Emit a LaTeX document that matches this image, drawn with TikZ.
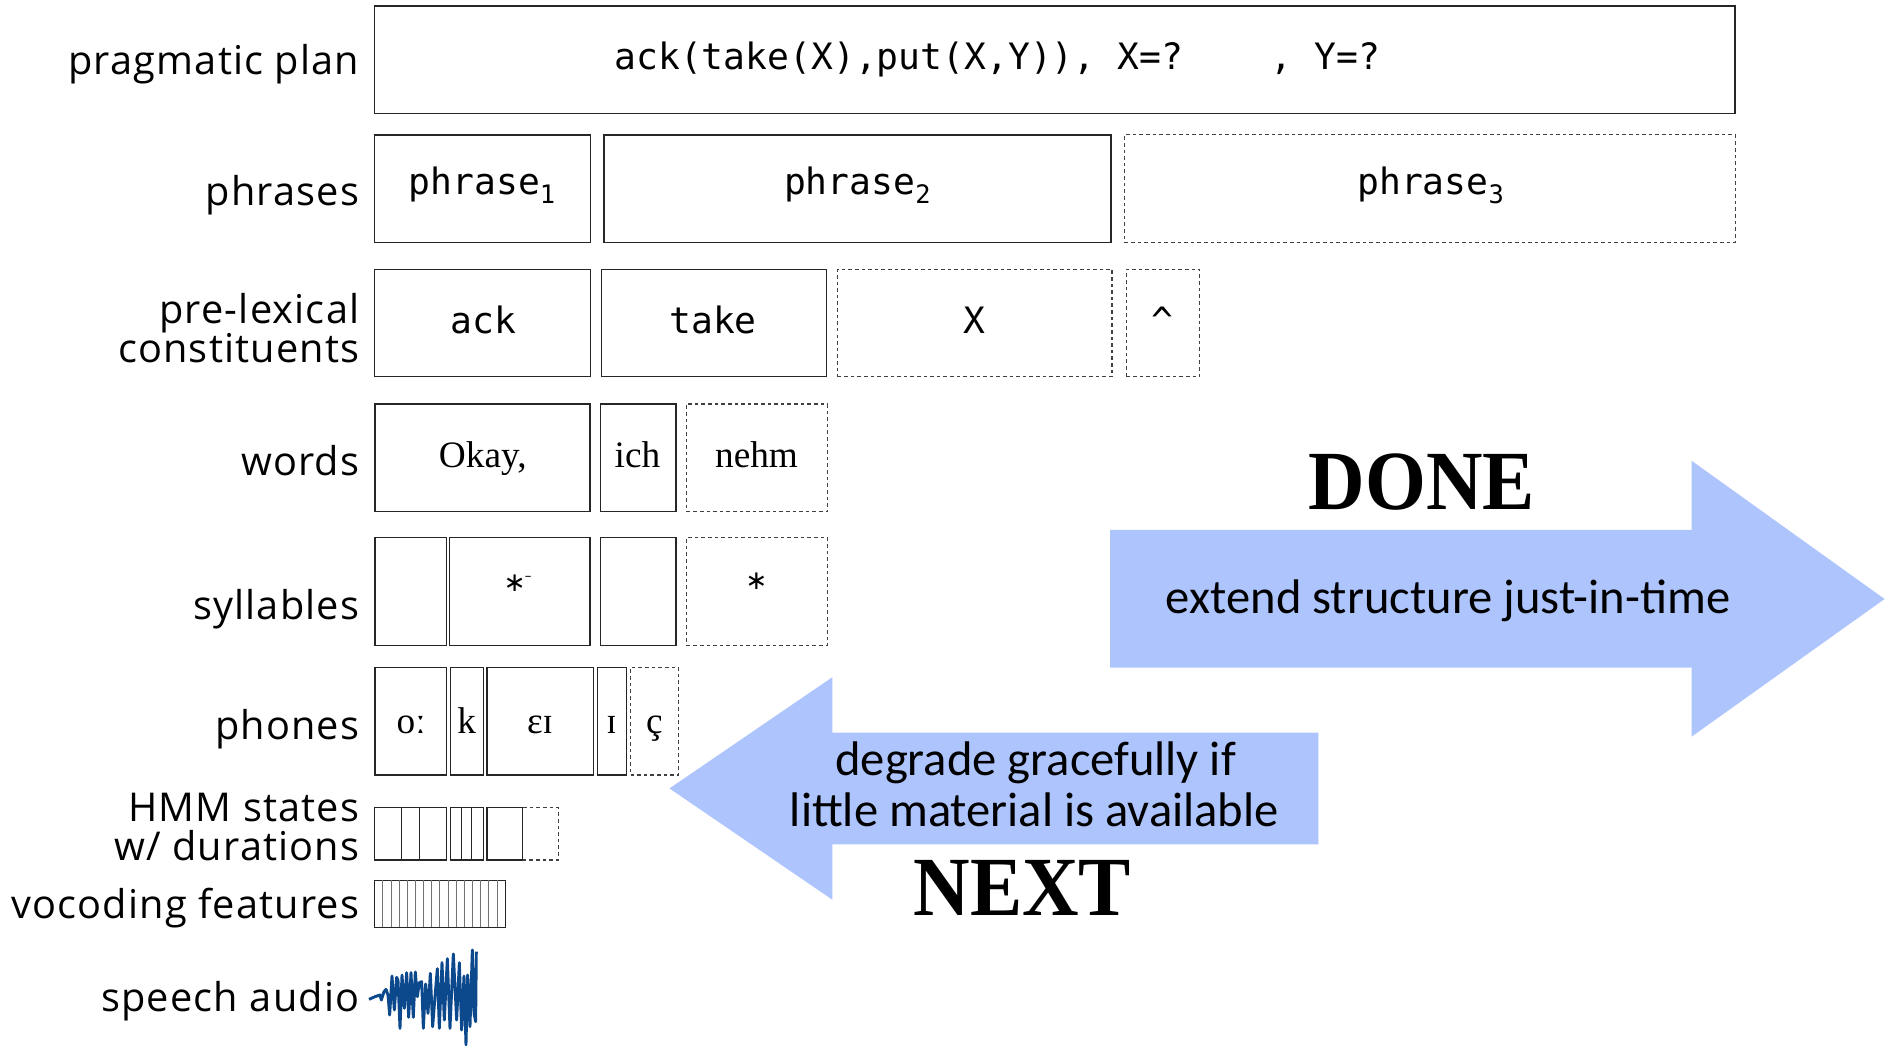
\documentclass[tikz,border=0pt]{standalone}
\usepackage{fontspec}
\usetikzlibrary{calc}
\newfontfamily\lblfont[LetterSpace=3]{Open Sans}
\newfontfamily\mono{DejaVu Sans Mono}
\newfontfamily\serifw{Liberation Serif}
\newfontfamily\arrfont{Carlito}
\newfontfamily\symfont{DejaVu Sans}
\newfontfamily\bigserif[FakeStretch=0.93]{Liberation Serif}
\definecolor{arrblue}{RGB}{174,196,253}
\definecolor{wave}{RGB}{12,72,140}
\tikzset{
  bx/.style={draw=black!85, line width=1pt, inner sep=0pt, outer sep=0pt},
  dbx/.style={draw=black!75, line width=0.9pt, dash pattern=on 3pt off 2.5pt, inner sep=0pt, outer sep=0pt},
  lbl/.style={anchor=base east, inner sep=0pt, font=\lblfont\fontsize{33}{33}\selectfont},
  mt/.style={anchor=base, inner sep=0pt, font=\mono\fontsize{30.2}{30}\selectfont},
  st/.style={anchor=base, inner sep=0pt, font=\serifw\fontsize{31}{31}\selectfont},
  arrtxt/.style={anchor=base, inner sep=0pt, font=\arrfont\fontsize{40.4}{40}\selectfont},
  bigtxt/.style={anchor=base, inner sep=0pt, font=\bigserif\bfseries\fontsize{70}{70}\selectfont},
  smark/.style={inner sep=0pt, font=\symfont\fontsize{22}{22}\selectfont},
  stripe/.style={draw=black!55, line width=0.8pt},
  arrowshape/.style={fill=arrblue, draw=none},
}
% name, x1, x2, y1, y2, style
\newcommand\Bx[6]{\node[#6, minimum width={(#3-#2)*1pt}, minimum height={(#5-#4)*1pt}] (#1) at ({(#2+#3)/2},{(#4+#5)/2}) {};}
\begin{document}
\begin{tikzpicture}[x=1pt, y=-1pt]
\useasboundingbox (0,0) rectangle (1568,869);

% ---- arrows
\fill[arrowshape] (922.9,440.6) -- (1406.3,440.6) -- (1406.3,383) -- (1566.8,498) -- (1406.3,612.5) -- (1406.3,555) -- (922.9,555) -- cycle;
\fill[arrowshape] (1096,609) -- (692,609) -- (692,563) -- (556.6,655.5) -- (692,748) -- (692,702) -- (1096,702) -- cycle;
\node[bigtxt] (done) at (1182,424) {DONE};
\node[bigtxt] (next) at (850,761) {NEXT};
\node[arrtxt] (ext) at (1204,510) {extend structure just-in-time};
\node[arrtxt] (deg1) at (861,645) {degrade gracefully if};
\node[arrtxt] (deg2) at (860,687) {little material is available};

% ---- labels
\node[lbl] (l1) at (299,62) {pragmatic plan};
\node[lbl] (l2) at (299,171) {phrases};
\node[lbl] (l3a) at (299,269) {pre-lexical};
\node[lbl] (l3b) at (299,301) {constituents};
\node[lbl] (l4) at (299,395) {words};
\node[lbl] (l5) at (299,515) {syllables};
\node[lbl] (l6) at (299,615) {phones};
\node[lbl] (l7a) at (299,683) {HMM states};
\node[lbl] (l7b) at (299,715) {w/ durations};
\node[lbl] (l8) at (299,764) {vocoding features};
\node[lbl] (l9) at (299,841) {speech audio};

% ---- pragmatic plan
\Bx{plan}{311.5}{1442.5}{5}{94.2}{bx}
\node[mt, anchor=base west] (plant) at (510.7,58) {ack(take(X),put(X,Y)), X=?\ \ \ \ ,\ Y=?};

% ---- phrases
\Bx{ph1}{311.5}{491.2}{112.2}{201.5}{bx}
\Bx{ph2}{502.2}{923.6}{112.2}{201.5}{bx}
\Bx{ph3}{935}{1442.5}{112.2}{201.5}{dbx}
\node[mt] (ph1t) at (401,162) {phrase\textsubscript{1}};
\node[mt] (ph2t) at (713,162) {phrase\textsubscript{2}};
\node[mt] (ph3t) at (1189.6,162) {phrase\textsubscript{3}};

% ---- pre-lexical constituents
\Bx{pl1}{311.5}{490.9}{224}{313.2}{bx}
\Bx{pl2}{499.8}{687.3}{224}{313.2}{bx}
\Bx{pl3}{696.4}{924.5}{224}{313.2}{dbx}
\Bx{pl4}{936.5}{997.5}{224}{313.2}{dbx}
\node[mt] (pl1t) at (401.9,277) {ack};
\node[mt] (pl2t) at (592.8,277) {take};
\node[mt] (pl3t) at (810,277) {X};
\node[mt] (pl4t) at (966.5,277) {\textasciicircum};

% ---- words
\Bx{w1}{311.8}{490.5}{335.9}{425.4}{bx}
\Bx{w2}{499.4}{562}{335.9}{425.4}{bx}
\Bx{w3}{570.9}{687.8}{335.9}{425.4}{dbx}
\node[st] (w1t) at (401.4,388.5) {Okay,};
\node[st] (w2t) at (530,388.5) {ich};
\node[st] (w3t) at (629,388.5) {nehm};

% ---- syllables
\Bx{s1}{311.8}{371.1}{447}{536.5}{bx}
\Bx{s2}{373.6}{490.5}{447}{536.5}{bx}
\Bx{s3}{499.4}{562}{447}{536.5}{bx}
\Bx{s4}{570.9}{687.8}{447}{536.5}{dbx}
\node[smark] (s2m) at (428,485) {∗};
\node[smark, font=\fontsize{18}{18}\selectfont] (s2d) at (439.5,481) {-};
\node[smark] (s4m) at (629,483.6) {∗};

% ---- phones
\Bx{p1}{311.8}{371.1}{555.1}{644.3}{bx}
\Bx{p2}{374.4}{401.8}{555.1}{644.3}{bx}
\Bx{p3}{404.9}{493.3}{555.1}{644.3}{bx}
\Bx{p4}{496.6}{521}{555.1}{644.3}{bx}
\Bx{p5}{524.3}{564.2}{555.1}{644.3}{dbx}
\node[st] (p1t) at (341.8,609.5) {oː};
\node[st] (p2t) at (388,609.5) {k};
\node[st] (p3t) at (449,609.5) {ɛɪ};
\node[st] (p4t) at (508.5,609.5) {ɪ};
\node[st] (p5t) at (544,609.5) {ç};

% ---- HMM states
\Bx{h4}{434.6}{464}{671.5}{715}{dbx}
\Bx{h1}{311.5}{371}{671.5}{715}{bx}
\Bx{h2}{374.4}{401.8}{671.5}{715}{bx}
\Bx{h3}{404.9}{434.6}{671.5}{715}{bx}
\draw[bx] (334,671.5) -- (334,715) (349,671.5) -- (349,715);
\draw[bx] (384,671.5) -- (384,715) (392,671.5) -- (392,715);

% ---- vocoding features
\Bx{voc}{311.5}{420}{732}{771}{bx}
\foreach \k in {1,...,15} {
  \draw[stripe] ($(voc.north west)!\k/16!(voc.north east)$) -- ($(voc.south west)!\k/16!(voc.south east)$);
}

% ---- speech audio waveform
\begin{scope}[shift={(299.3,648.5)}, x=0.2771pt, y=-0.2771pt]
\draw[wave, line width=2.4pt, line join=round]
 (27,658) -- (45,650) -- (60,645) -- (64,660) -- (72,635) -- (78,628) -- (84,645) -- (89,705) -- (96,588) -- (103,690) -- (110,592) -- (114,600) -- (120,745) -- (126,585) -- (133,685) -- (140,578) -- (146,712) -- (153,578) -- (160,712) -- (166,576) -- (172,650) -- (178,608) -- (185,605) -- (190,745) -- (197,612) -- (204,700) -- (211,580) -- (218,740) -- (225,650) -- (232,566) -- (238,745) -- (246,548) -- (253,720) -- (262,536) -- (270,745) -- (280,522) -- (290,720) -- (298,548) -- (305,750) -- (312,588) -- (318,795) -- (323,585) -- (330,740) -- (337,510) -- (342,700) -- (347,725) -- (349,515);
\end{scope}
\end{tikzpicture}
\end{document}
